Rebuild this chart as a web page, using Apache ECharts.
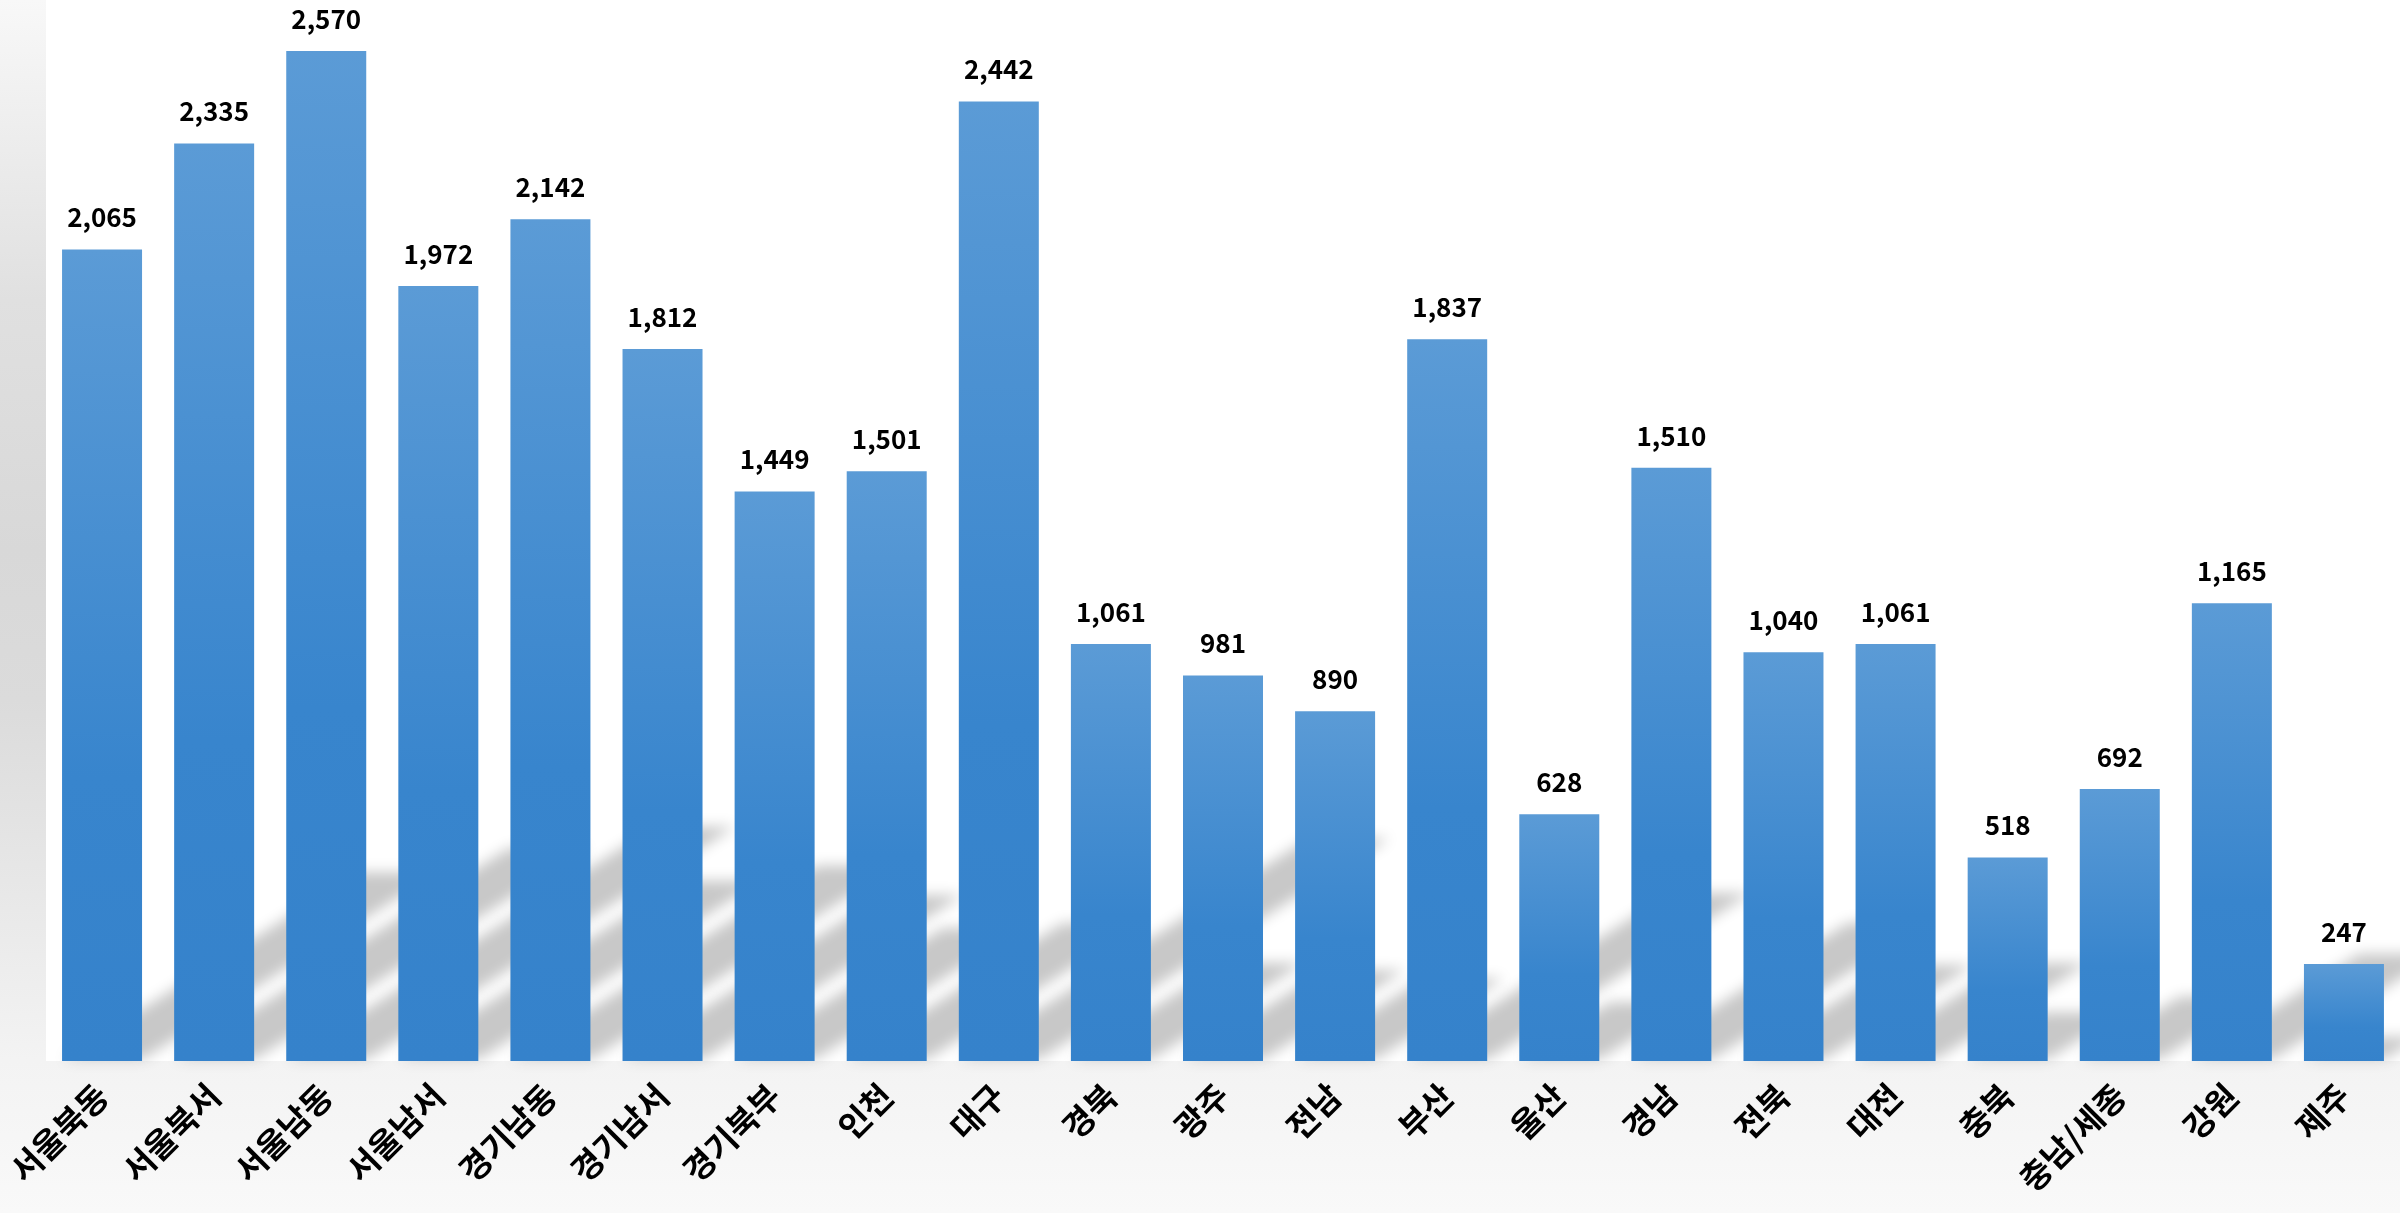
<!DOCTYPE html>
<html>
<head>
<meta charset="utf-8">
<script src="https://cdn.jsdelivr.net/npm/echarts@6/dist/echarts.min.js"></script>
<style>
  html, body { margin: 0; padding: 0; }
  #chart {
    width: 2400px; height: 1213px;
    background: linear-gradient(to bottom, #f8f8f8 0px, #e0e0e0 300px, #d8d8d8 550px, #dbdbdb 700px, #f3f3f3 1060px, #f9f9f9 1213px);
  }
</style>
</head>
<body>
<div id="chart"></div>
<script>
// ---- data ----
const categories = ['서울북동','서울북서','서울남동','서울남서','경기남동','경기남서','경기북부','인천','대구','경북','광주','전남','부산','울산','경남','전북','대전','충북','충남/세종','강원','제주'];
const values = [2065, 2335, 2570, 1972, 2142, 1812, 1449, 1501, 2442, 1061, 981, 890, 1837, 628, 1510, 1040, 1061, 518, 692, 1165, 247];

const FONT = '"Noto Sans CJK KR", "Noto Sans", sans-serif';
const BAR_W = 80;
const chart = echarts.init(document.getElementById('chart'));

const shadowData = categories.map((c, i) => [i, values[i]]);

chart.setOption({
  animation: false,
  grid: {
    left: 46, right: 0, top: 0, bottom: 152,
    show: true, backgroundColor: '#ffffff', borderWidth: 0
  },
  xAxis: {
    type: 'category',
    data: categories,
    axisLine: { show: false },
    axisTick: { show: false },
    axisLabel: {
      rotate: 45, interval: 0, margin: 29,
      fontFamily: FONT, fontSize: 33, fontWeight: 'bold', color: '#000000'
    }
  },
  yAxis: {
    type: 'value', min: 0, max: 2700,
    show: false, splitLine: { show: false }
  },
  series: [
    {
      type: 'custom',
      clip: false,
      z: 1,
      silent: true,
      data: shadowData,
      renderItem: function (params, api) {
        const v = api.value(1);
        const base = api.coord([api.value(0), 0]);
        const top = api.coord([api.value(0), v]);
        const H = base[1] - top[1];
        const x0 = base[0] - BAR_W / 2, x1 = base[0] + BAR_W / 2;
        const by = base[1] - 1;
        const dx = 0.364 * H, dy = 0.23 * H;
        const OFF = 4000;
        return {
          type: 'polygon',
          shape: { points: [[x0 - OFF, by], [x1 - OFF, by], [x1 + dx - OFF, by - dy], [x0 + dx - OFF, by - dy]] },
          style: {
            fill: '#cbcbcb',
            shadowBlur: 14,
            shadowColor: '#c8c8c8',
            shadowOffsetX: OFF + 1,
            shadowOffsetY: -1
          }
        };
      }
    },
    {
      type: 'bar',
      z: 2,
      data: values,
      barWidth: BAR_W,
      itemStyle: {
        color: new echarts.graphic.LinearGradient(0, 0, 0, 1, [
          { offset: 0, color: '#5b9bd6' },
          { offset: 0.65, color: '#3885cd' },
          { offset: 1, color: '#3582cb' }
        ])
      },
      label: {
        show: true,
        position: 'top',
        distance: 19,
        fontFamily: FONT,
        fontSize: 26,
        fontWeight: 'bold',
        color: '#000000',
        formatter: p => p.value.toLocaleString('en-US')
      }
    }
  ]
});
</script>
</body>
</html>
